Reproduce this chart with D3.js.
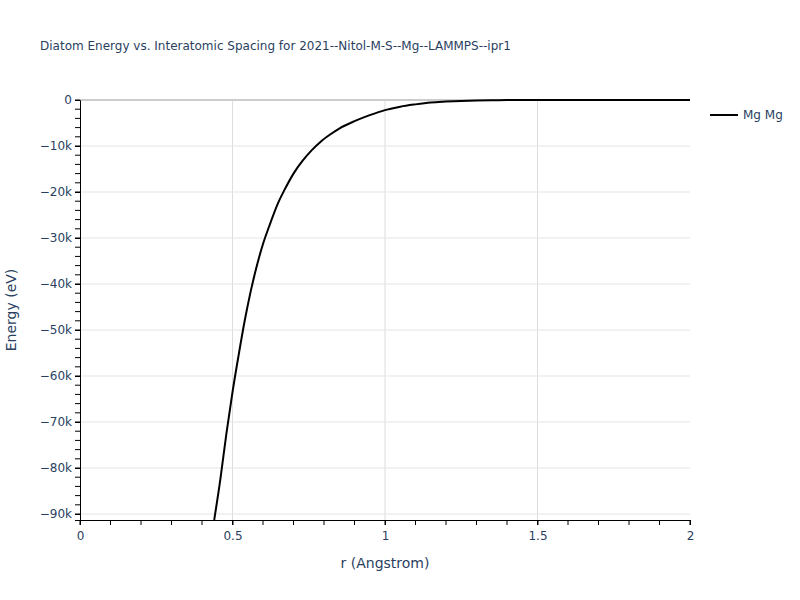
<!DOCTYPE html>
<html><head><meta charset="utf-8">
<script src="https://cdn.jsdelivr.net/npm/d3@7"></script>
<style>body{margin:0;background:#fff}text{font-family:"DejaVu Sans",Verdana,sans-serif}</style>
</head><body><svg id="c" width="800" height="600"></svg>
<script>
const rValues = [0.44,0.46,0.48,0.50,0.52,0.54,0.56,0.58,0.60,0.62,0.65,0.67,0.70,0.73,0.76,0.79,0.82,0.85,0.90,0.95,1.00,1.05,1.10,1.15,1.20,1.25,1.30,1.35,1.40,1.50,1.60,1.80,2.00];
const energyValues = [-91300,-82500,-72500,-63500,-55500,-48000,-41500,-36000,-31300,-27500,-22300,-19600,-16000,-13200,-10900,-9000,-7500,-6200,-4600,-3300,-2200,-1450,-950,-550,-350,-200,-100,-50,-20,0,0,0,0];
const xTicks = [0,0.5,1,1.5,2];
const xTickLabels = ["0","0.5","1","1.5","2"];
const yTicks = [0,-10000,-20000,-30000,-40000,-50000,-60000,-70000,-80000,-90000];
const yTickLabels = ["0","\u221210k","\u221220k","\u221230k","\u221240k","\u221250k","\u221260k","\u221270k","\u221280k","\u221290k"];
const seriesName = "Mg Mg";
const title = "Diatom Energy vs. Interatomic Spacing for 2021--Nitol-M-S--Mg--LAMMPS--ipr1";

const svg = d3.select("#c");
const L=80,R=690,T=100,B=520;
const x = d3.scaleLinear().domain([0,2]).range([L,R]);
const y = d3.scaleLinear().domain([-91300,0]).range([B,T]);
const txt="#2a3f5f";
const FF='"DejaVu Sans",Verdana,sans-serif';

// grid
svg.append("g").selectAll("line").data(xTicks.slice(1,-1)).join("line")
  .attr("x1",d=>x(d)).attr("x2",d=>x(d)).attr("y1",T).attr("y2",B)
  .attr("stroke","#dddddd").attr("stroke-width",1);
svg.append("g").selectAll("line").data(yTicks.slice(1)).join("line")
  .attr("x1",L).attr("x2",R).attr("y1",d=>y(d)).attr("y2",d=>y(d))
  .attr("stroke","#e5e5e5").attr("stroke-width",1);
// zeroline
svg.append("line").attr("x1",L).attr("x2",R).attr("y1",y(0)).attr("y2",y(0)).attr("stroke","#cccccc").attr("stroke-width",2);

// minor ticks
const xMinor = d3.range(0,2.0001,0.1);
svg.append("g").selectAll("line").data(xMinor).join("line")
  .attr("x1",d=>x(d)).attr("x2",d=>x(d)).attr("y1",B).attr("y2",B+5).attr("stroke","#000");
const yMinor = d3.range(0,-91000,-2000);
svg.append("g").selectAll("line").data(yMinor).join("line")
  .attr("x1",L-5).attr("x2",L).attr("y1",d=>y(d)).attr("y2",d=>y(d)).attr("stroke","#000");

// axes
const xAxis = d3.axisBottom(x).tickValues(xTicks).tickFormat((d,i)=>xTickLabels[i]).tickSize(5).tickPadding(6);
const gx = svg.append("g").attr("transform",`translate(0,${B})`).call(xAxis);
const yAxis = d3.axisLeft(y).tickValues(yTicks).tickFormat((d,i)=>yTickLabels[i]).tickSize(5).tickPadding(3);
const gy = svg.append("g").attr("transform",`translate(${L},0)`).call(yAxis);
[gx,gy].forEach(g=>{
  g.select(".domain").attr("stroke","#000").attr("stroke-width",1);
  g.selectAll(".tick line").attr("stroke","#000");
  g.selectAll(".tick text").attr("fill",txt).style("font-size","12px").style("font-family",FF);
});

// line
svg.append("path").datum(rValues.map((r,i)=>[r,energyValues[i]]))
  .attr("fill","none").attr("stroke","#000").attr("stroke-width",2)
  .attr("d",d3.line().curve(d3.curveMonotoneX).x(d=>x(d[0])).y(d=>y(d[1])));

// title
svg.append("text").attr("x",40).attr("y",50).attr("fill",txt).style("font-size","12px").text(title);
svg.append("text").attr("x",(L+R)/2).attr("y",568).attr("text-anchor","middle").attr("fill",txt).style("font-size","14px").text("r (Angstrom)");
svg.append("text").attr("transform",`translate(16,${(T+B)/2}) rotate(-90)`).attr("text-anchor","middle").attr("fill",txt).style("font-size","14px").text("Energy (eV)");

// legend
svg.append("line").attr("x1",710).attr("x2",738).attr("y1",115).attr("y2",115).attr("stroke","#000").attr("stroke-width",2);
svg.append("text").attr("x",743).attr("y",119).attr("fill",txt).style("font-size","12px").text(seriesName);
</script></body></html>
